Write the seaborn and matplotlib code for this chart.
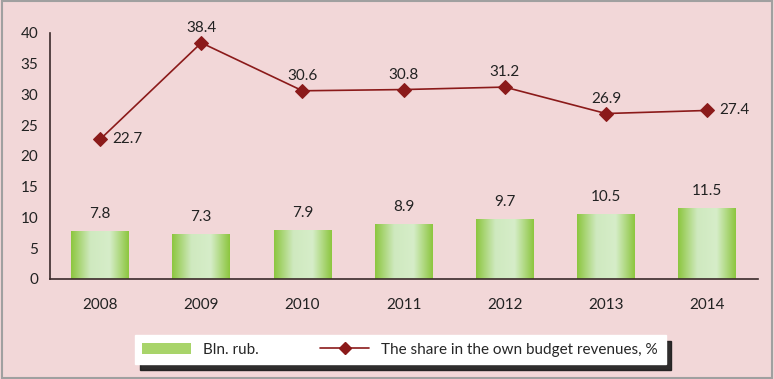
import numpy as np
import matplotlib
matplotlib.use("Agg")
import matplotlib.pyplot as plt
from matplotlib.colors import LinearSegmentedColormap
from matplotlib.lines import Line2D
from matplotlib.patches import Patch
import pandas as pd
import seaborn as sns

# data
years = ["2008", "2009", "2010", "2011", "2012", "2013", "2014"]
bln_rub = [7.8, 7.3, 7.9, 8.9, 9.7, 10.5, 11.5]
share = [22.7, 38.4, 30.6, 30.8, 31.2, 26.9, 27.4]

bg = "#f2d7d8"
line_c = "#8b1a1a"
axis_c = "#3a2a2a"

sns.set_theme(style="white")
plt.rcParams['font.family'] = ['Lato', 'DejaVu Sans']

fig = plt.figure(figsize=(7.74, 3.79), dpi=100, facecolor=bg)
ax = fig.add_axes([0.064, 0.264, 0.915, 0.649])
ax.set_facecolor(bg)

df = pd.DataFrame({"year": years, "bln": bln_rub, "share": share})
sns.barplot(data=df, x="year", y="bln", ax=ax, width=0.57, color="#9fd05a",
            edgecolor="none", saturation=1)

# gradient fill on each bar
cmap = LinearSegmentedColormap.from_list("g", ["#8cc63e", "#cfe9bf", "#d6edc9", "#8cc63e"])
grad = np.linspace(0, 1, 256).reshape(1, -1)
for p in ax.patches:
    x0, y0 = p.get_x(), p.get_y()
    w, h = p.get_width(), p.get_height()
    im = ax.imshow(grad, cmap=cmap, aspect="auto", extent=[x0, x0 + w, y0, y0 + h],
                   zorder=p.get_zorder() + 0.1, interpolation="bicubic")
    im.set_clip_path(p)

sns.lineplot(x=np.arange(len(years)), y=share, ax=ax, color=line_c, marker="D",
             markersize=7, markeredgecolor=line_c, linewidth=1.2, zorder=5)

for i, v in enumerate(bln_rub):
    ax.text(i, v + 2.8, f"{v}", ha="center", va="center", fontsize=11, color="#222222")

for i, v in enumerate(share):
    if i in (0, len(share) - 1):
        ax.text(i + 0.12, v, f"{v}", ha="left", va="center", fontsize=11, color="#222222")
    else:
        ax.text(i, v + 1.3, f"{v}", ha="center", va="bottom", fontsize=11, color="#222222")

ax.set_xlim(-0.5, len(years) - 0.5)
ax.set_ylim(0, 40)
ax.set_yticks(range(0, 41, 5))
ax.set_xticks(range(len(years)))
ax.set_xticklabels(years)
ax.set_xticks(np.arange(-0.5, len(years)), minor=True)
ax.tick_params(axis="x", which="major", length=0, pad=14, labelsize=11, colors="#222222")
ax.tick_params(axis="x", which="minor", direction="inout", length=8, width=1, color=axis_c)
ax.tick_params(axis="y", direction="inout", length=8, width=1, color=axis_c,
               labelsize=11, labelcolor="#222222", pad=4)
ax.set_xlabel("")
ax.set_ylabel("")
for s in ["top", "right"]:
    ax.spines[s].set_visible(False)
for s in ["left", "bottom"]:
    ax.spines[s].set_color(axis_c)
    ax.spines[s].set_linewidth(1.2)

handles = [Patch(facecolor="#a8d46a", edgecolor="none", label="Bln. rub."),
           Line2D([0], [0], color=line_c, marker="D", markersize=6, linewidth=1.2,
                  label="The share in the own budget revenues, %")]
leg = fig.legend(handles=handles, loc="center", bbox_to_anchor=(0.517, 0.077), ncol=2,
                 frameon=True, fancybox=False,
                 shadow={"color": "#1a1a1a", "alpha": 0.9, "ox": 4, "oy": -4},
                 fontsize=11, handlelength=3.2, columnspacing=4, borderpad=0.5)
leg.get_frame().set_facecolor("white")
leg.get_frame().set_edgecolor("white")

fig.patches.append(plt.Rectangle((0.002, 0.003), 0.996, 0.994, transform=fig.transFigure,
                                 fill=False, edgecolor="#a0a0a0", linewidth=1.5))

fig.savefig("out.png", dpi=100, facecolor=bg)
